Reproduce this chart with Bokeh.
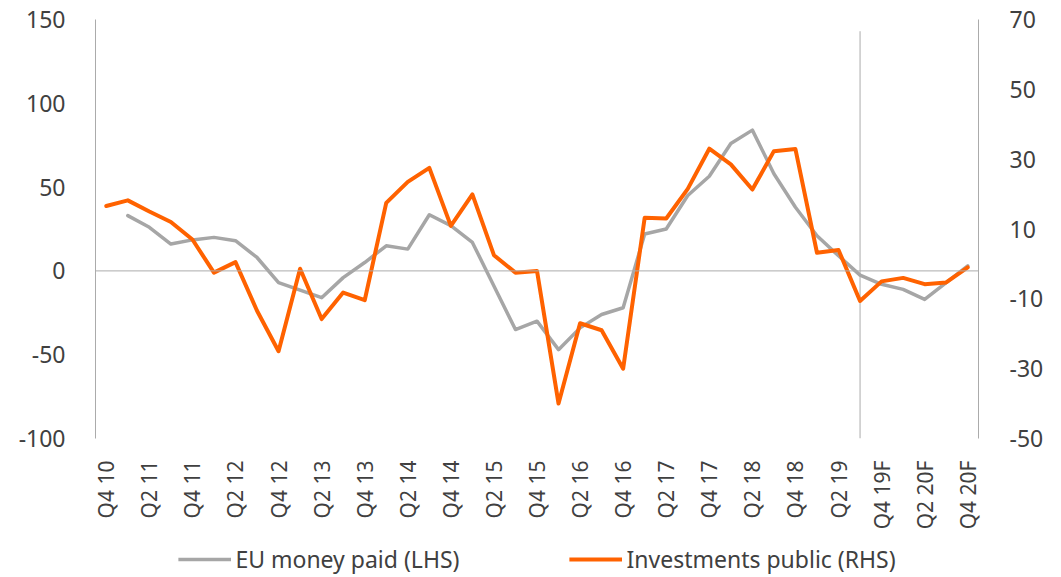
import numpy as np
from bokeh.plotting import figure
from bokeh.layouts import column
from bokeh.models import Range1d, LinearAxis, FixedTicker, Span, Legend, LegendItem
from bokeh.embed import file_html
from bokeh.resources import INLINE

# ---------------- data ----------------
quarters = [
    "Q4 10",
    "Q1 11", "Q2 11", "Q3 11", "Q4 11",
    "Q1 12", "Q2 12", "Q3 12", "Q4 12",
    "Q1 13", "Q2 13", "Q3 13", "Q4 13",
    "Q1 14", "Q2 14", "Q3 14", "Q4 14",
    "Q1 15", "Q2 15", "Q3 15", "Q4 15",
    "Q1 16", "Q2 16", "Q3 16", "Q4 16",
    "Q1 17", "Q2 17", "Q3 17", "Q4 17",
    "Q1 18", "Q2 18", "Q3 18", "Q4 18",
    "Q1 19", "Q2 19", "Q3 19", "Q4 19F",
    "Q1 20F", "Q2 20F", "Q3 20F", "Q4 20F",
]

# EU money paid (LHS), % YoY
eu_money = [
    float("nan"),
    33, 26, 16, 18.5,
    20, 18, 8, -7,
    -11.5, -16, -4, 5,
    15, 13, 33.5, 27,
    17, -9, -35, -30,
    -47, -34, -26, -22,
    22, 25, 45, 56.5,
    76, 84, 58, 38,
    21, 9, -2.5, -8,
    -11, -17, -7, 3,
]

# Investments public (RHS), % YoY
investments = [
    16.6,
    18.2, 15, 12, 7,
    -2.5, 0.5, -13.4, -25,
    -1.4, -15.8, -8.2, -10.4,
    17.5, 23.5, 27.5, 10.9,
    19.9, 2.5, -2.5, -2,
    -40, -17, -19, -30,
    13.2, 13, 21.5, 33,
    28.5, 21.3, 32.3, 32.9,
    3.2, 4.0, -10.6, -5,
    -4, -5.8, -5.3, -1,
]

left_ticks = [-100, -50, 0, 50, 100, 150]
right_ticks = [-50, -30, -10, 10, 30, 50, 70]
forecast_marker = "Q3 19"
series_names = ["EU money paid (LHS)", "Investments public (RHS)"]

# ---------------- styling ----------------
FONT = "Noto Sans"
TXT = "#404040"
AX = "#ABABAB"
GRAY = "#A6A6A6"
ORANGE = "#FF6200"

x = list(range(len(quarters)))
label_idx = x[::2]

p = figure(
    width=1061, height=540,
    x_range=Range1d(-0.5, len(quarters) - 0.5),
    y_range=Range1d(left_ticks[0], left_ticks[-1]),
    output_backend="svg", toolbar_location=None,
    min_border_left=95, min_border_right=83,
    min_border_top=19, min_border_bottom=102,
)
p.extra_y_ranges = {"rhs": Range1d(right_ticks[0], right_ticks[-1])}
p.outline_line_color = None
p.grid.visible = False
p.background_fill_color = "white"
p.border_fill_color = "white"

# x axis
xa = p.xaxis[0]
xa.ticker = FixedTicker(ticks=label_idx)
xa.major_label_overrides = {i: quarters[i] for i in label_idx}
xa.major_label_orientation = np.pi / 2
xa.axis_line_color = None
xa.major_tick_line_color = None
xa.minor_tick_line_color = None
xa.major_label_standoff = 16
xa.major_label_text_font = FONT
xa.major_label_text_font_size = "21px"
xa.major_label_text_color = TXT

# left axis
ya = p.yaxis[0]
ya.ticker = FixedTicker(ticks=left_ticks)
ya.major_label_overrides = {t: str(t) for t in left_ticks}
ya.axis_line_color = AX
ya.major_tick_line_color = None
ya.minor_tick_line_color = None
ya.major_label_standoff = 24
ya.major_label_text_font = FONT
ya.major_label_text_font_size = "23px"
ya.major_label_text_color = TXT

# right axis
ra = LinearAxis(y_range_name="rhs", ticker=FixedTicker(ticks=right_ticks))
ra.major_label_overrides = {t: str(t) for t in right_ticks}
ra.axis_line_color = AX
ra.major_tick_line_color = None
ra.minor_tick_line_color = None
ra.major_label_standoff = 25
ra.major_label_text_font = FONT
ra.major_label_text_font_size = "23px"
ra.major_label_text_color = TXT
p.add_layout(ra, "right")

# zero line and forecast marker
p.add_layout(Span(location=0, dimension="width", line_color=AX, line_width=1))
mi = quarters.index(forecast_marker)
p.segment(x0=[mi], y0=[left_ticks[0]], x1=[mi], y1=[143], line_color=AX, line_width=1)

# series
p.line(x, eu_money, line_color=GRAY, line_width=3.5,
       line_join="round", line_cap="round")
p.line(x, investments, line_color=ORANGE, line_width=4,
       line_join="round", line_cap="round", y_range_name="rhs")

# ---------------- legend strip ----------------
pl = figure(
    width=1061, height=37,
    x_range=Range1d(0, 1), y_range=Range1d(0, 1),
    output_backend="svg", toolbar_location=None,
    x_axis_type=None, y_axis_type=None,
    min_border_left=14, min_border_right=0, min_border_top=0, min_border_bottom=0,
)
pl.outline_line_color = None
pl.grid.visible = False
# proxy renderers (placed outside the visible range) that only feed the legend
l_eu = pl.line([5, 6], [5, 6], line_color=GRAY, line_width=3.5)
l_inv = pl.line([5, 6], [5, 6], line_color=ORANGE, line_width=4)

legend = Legend(
    items=[LegendItem(label=series_names[0], renderers=[l_eu]),
           LegendItem(label=series_names[1], renderers=[l_inv])],
    orientation="horizontal", location="center",
    glyph_width=53, glyph_height=20, label_standoff=5, spacing=109,
    padding=0, margin=0, border_line_color=None, background_fill_alpha=0,
    label_text_font=FONT, label_text_font_size="23px", label_text_color=TXT,
)
pl.add_layout(legend, "center")

layout = column(p, pl, spacing=0)
open("out.html", "w").write(file_html(layout, INLINE))
